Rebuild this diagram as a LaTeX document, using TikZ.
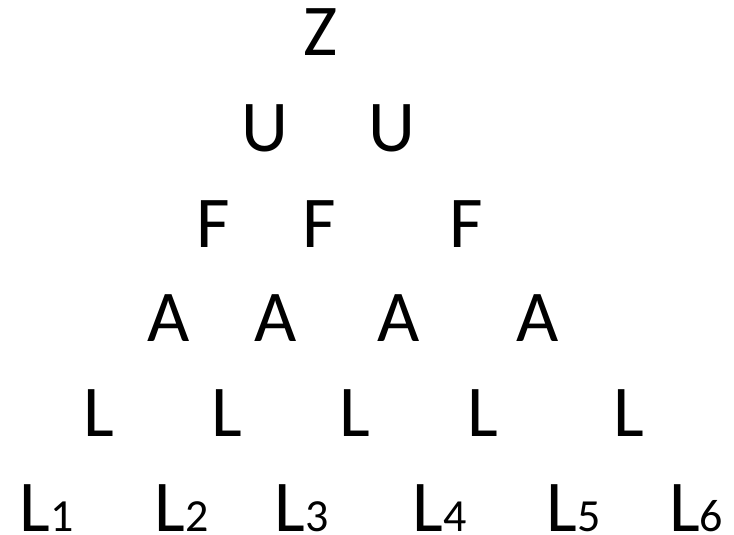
\documentclass[tikz,border=0pt]{standalone}
\usepackage{fontspec}
\setmainfont{Carlito}
\newcommand{\idx}[1]{{\fontsize{46}{50}\selectfont #1}}
\tikzset{
  lettre/.style={font=\fontsize{73}{80}\selectfont, inner sep=0pt, anchor=base}
}
\begin{document}
\begin{tikzpicture}[x=1pt,y=-1pt]
  \useasboundingbox (0,0) rectangle (734,535);

  % Sommet
  \node[lettre] (z) at (320.5,56) {Z};

  % Rangée U
  \node[lettre] (u1) at (265,151) {U};
  \node[lettre] (u2) at (392,151) {U};

  % Rangée F
  \node[lettre] (f1) at (213,247) {F};
  \node[lettre] (f2) at (319,247) {F};
  \node[lettre] (f3) at (466.5,247) {F};

  % Rangée A
  \node[lettre] (a1) at (168.5,341) {A};
  \node[lettre] (a2) at (275.5,341) {A};
  \node[lettre] (a3) at (398.5,341) {A};
  \node[lettre] (a4) at (537.5,341) {A};

  % Rangée L
  \node[lettre] (l1) at (98.5,436) {L};
  \node[lettre] (l2) at (227,436) {L};
  \node[lettre] (l3) at (355,436) {L};
  \node[lettre] (l4) at (483,436) {L};
  \node[lettre] (l5) at (628.5,436) {L};

  % Base : feuilles indicées
  \node[lettre] (b1) at (46.5,531) {L\idx{1}};
  \node[lettre] (b2) at (181.5,531) {L\idx{2}};
  \node[lettre] (b3) at (301.5,531) {L\idx{3}};
  \node[lettre] (b4) at (439.5,531) {L\idx{4}};
  \node[lettre] (b5) at (573.5,531) {L\idx{5}};
  \node[lettre] (b6) at (696,531) {L\idx{6}};
\end{tikzpicture}
\end{document}
